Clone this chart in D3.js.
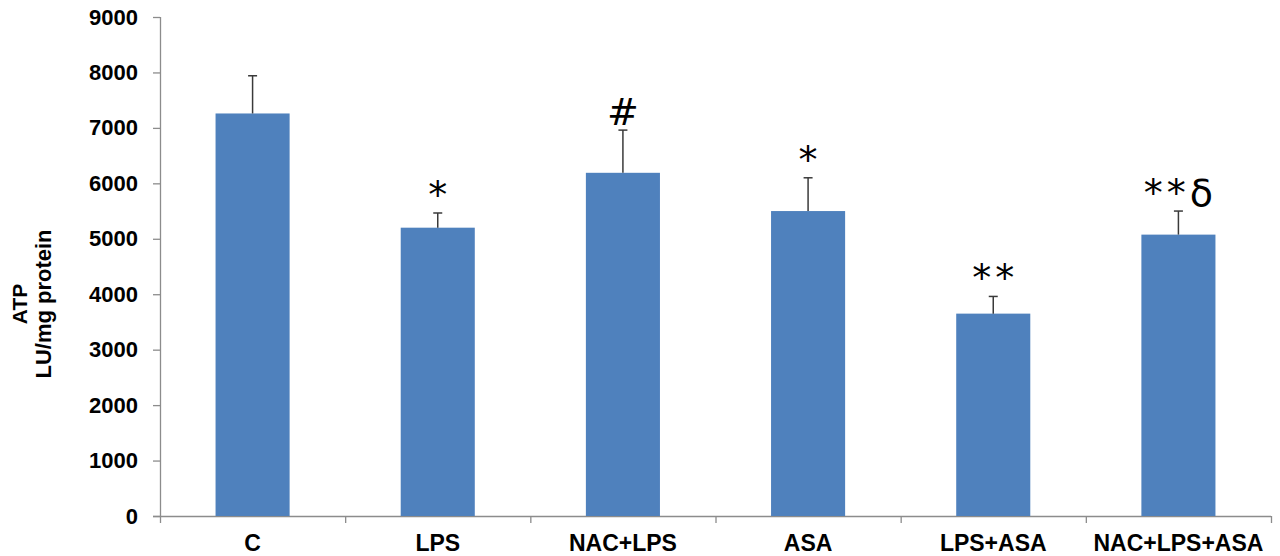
<!DOCTYPE html>
<html>
<head>
<meta charset="utf-8">
<script src="https://cdn.jsdelivr.net/npm/d3@7/dist/d3.min.js"></script>
<style>
  html, body { margin: 0; padding: 0; background: #fff; }
  svg { display: block; }
</style>
</head>
<body>
<svg id="chart" width="1280" height="556"></svg>
<script>
// ATP content per treatment group (mean and upper SD)
const groups = ["C", "LPS", "NAC+LPS", "ASA", "LPS+ASA", "NAC+LPS+ASA"];
const atpMean = [7260, 5200, 6190, 5500, 3650, 5075];
const atpError = [680, 265, 770, 600, 310, 425];
const significance = ["", "*", "#", "*", "**", "**δ"];
const yTicks = [0, 1000, 2000, 3000, 4000, 5000, 6000, 7000, 8000, 9000];

const svg = d3.select("#chart");
const plotLeft = 160, plotRight = 1271, plotTop = 17, plotBottom = 516;

const x = d3.scaleBand().domain(groups).range([plotLeft, plotRight]).paddingInner(0.6).paddingOuter(0.3);
const y = d3.scaleLinear().domain([0, 9000]).range([plotBottom, plotTop]);

const axisColor = "#8c8c8c";
const labelFont = "'Liberation Sans', Arial, Helvetica, sans-serif";

// y axis
const yAxis = svg.append("g")
  .attr("transform", `translate(${plotLeft},0)`)
  .call(d3.axisLeft(y).tickValues(yTicks).tickSize(7).tickPadding(15).tickFormat(d3.format("d")));
yAxis.selectAll("path, line").attr("stroke", axisColor).attr("stroke-width", 1.3);
yAxis.select("path").attr("d", `M0.5,${plotBottom}V${plotTop}`);
yAxis.selectAll("text")
  .attr("font-family", labelFont).attr("font-weight", "bold")
  .attr("font-size", 22).attr("fill", "#000");

// x axis: ticks sit on the category boundaries
const xEdges = d3.scaleLinear().domain([0, groups.length]).range([plotLeft, plotRight]);
const xAxis = svg.append("g")
  .attr("transform", `translate(0,${plotBottom})`)
  .call(d3.axisBottom(xEdges).tickValues(d3.range(groups.length + 1)).tickSize(7).tickFormat(""));
xAxis.selectAll("path, line").attr("stroke", axisColor).attr("stroke-width", 1.3);
xAxis.select("path").attr("d", `M${plotLeft - 7},0.5H${plotRight}`);

// category labels
svg.append("g").selectAll("text").data(groups).join("text")
  .attr("x", d => x(d) + x.bandwidth() / 2)
  .attr("y", 551)
  .attr("text-anchor", "middle")
  .attr("font-family", labelFont).attr("font-weight", "bold").attr("font-size", 23)
  .text(d => d);

// bars
svg.append("g").selectAll("rect").data(groups).join("rect")
  .attr("x", d => x(d))
  .attr("width", x.bandwidth())
  .attr("y", (d, i) => y(atpMean[i]))
  .attr("height", (d, i) => y(0) - y(atpMean[i]))
  .attr("fill", "#4f81bd");

// upper error bars
const err = svg.append("g").attr("stroke", "#3a3a3a").attr("stroke-width", 1.5);
groups.forEach((g, i) => {
  const cx = x(g) + x.bandwidth() / 2;
  const yTop = y(atpMean[i] + atpError[i]);
  err.append("line").attr("x1", cx).attr("x2", cx).attr("y1", y(atpMean[i])).attr("y2", yTop);
  err.append("line").attr("x1", cx - 4.5).attr("x2", cx + 4.5).attr("y1", yTop).attr("y2", yTop);
});

// significance markers above error bars
svg.append("g").selectAll("text").data(groups).join("text")
  .attr("x", d => x(d) + x.bandwidth() / 2 + 2)
  .attr("y", (d, i) => y(atpMean[i] + atpError[i]) - 5)
  .attr("text-anchor", "middle")
  .attr("font-family", "'DejaVu Sans', sans-serif").attr("font-size", 38)
  .attr("letter-spacing", 4)
  .attr("fill", "#000")
  .text((d, i) => significance[i]);

// y axis title
const title = svg.append("text")
  .attr("transform", "translate(0,304) rotate(-90)")
  .attr("text-anchor", "middle")
  .attr("font-family", labelFont).attr("font-weight", "bold");
title.append("tspan").attr("x", 0).attr("y", 27).attr("font-size", 21).text("ATP");
title.append("tspan").attr("x", 0).attr("y", 51).attr("font-size", 22).text("LU/mg protein");
</script>
</body>
</html>
